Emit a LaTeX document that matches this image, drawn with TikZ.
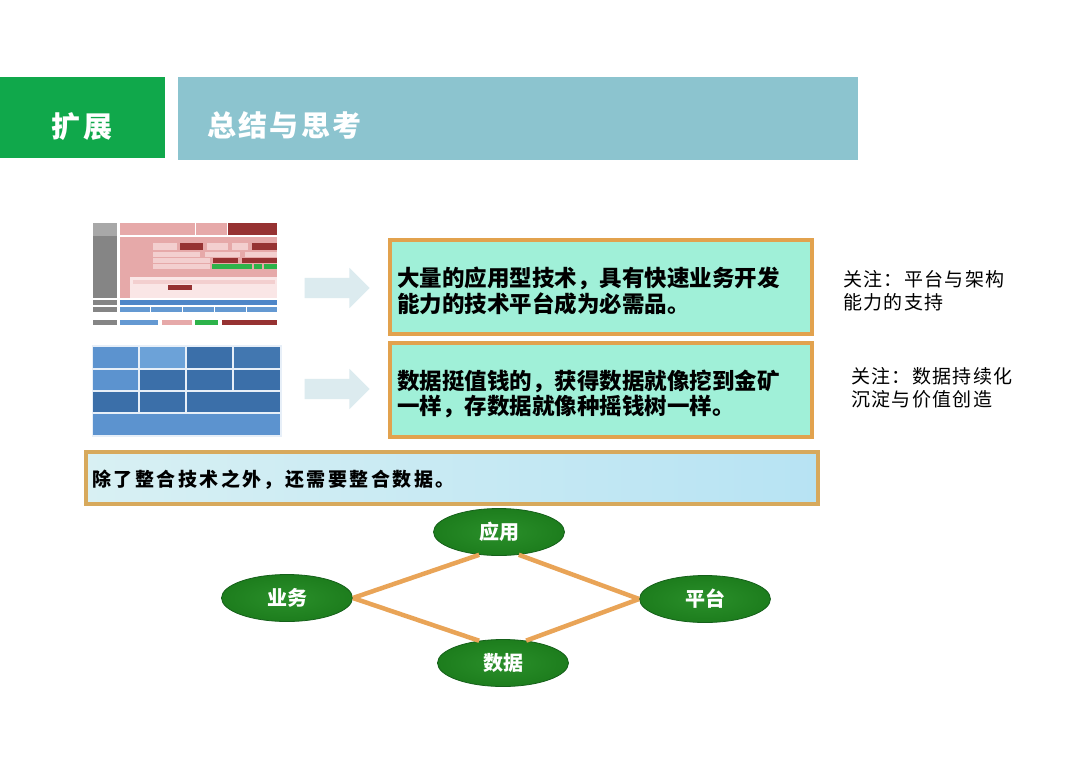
\documentclass[tikz,border=0pt]{standalone}
\usepackage{fontspec}
\setmainfont{Noto Sans CJK SC}
\newfontfamily\cjk{Noto Sans CJK SC}
\newfontfamily\cjkhead[LetterSpace=8]{Noto Sans CJK SC}
\newfontfamily\cjkwide[LetterSpace=13]{Noto Sans CJK SC}
\newfontfamily\cjknote[LetterSpace=7]{Noto Sans CJK SC}
\usetikzlibrary{shapes.geometric,shapes.arrows}
\definecolor{hgreen}{HTML}{10A84B}
\definecolor{hblue}{HTML}{8CC4CF}
\definecolor{mint}{HTML}{A0F0D8}
\definecolor{bord}{HTML}{E2A24E}
\definecolor{bord3}{HTML}{D7A95C}
\definecolor{lblueL}{HTML}{D8F0F3}
\definecolor{lblueR}{HTML}{B7E3F3}
\definecolor{egreenI}{HTML}{2A8F2A}
\definecolor{egreen}{HTML}{1D7D1D}
\definecolor{eborder}{HTML}{15601A}
\definecolor{dline}{HTML}{E9A457}
\definecolor{arrowc}{HTML}{DCEBEF}
\definecolor{tgray}{HTML}{858585}
\definecolor{tgrayL}{HTML}{A8A8A8}
\definecolor{tpink}{HTML}{E6A9A9}
\definecolor{tpinkL}{HTML}{F3CFCF}
\definecolor{tpinkV}{HTML}{FAE6E6}
\definecolor{tred}{HTML}{963232}
\definecolor{tgreen}{HTML}{2DB34A}
\definecolor{tblue}{HTML}{4E86C8}
\definecolor{tblueL}{HTML}{6499D2}
\definecolor{dblueA}{HTML}{5C93CF}
\definecolor{dblueB}{HTML}{6CA2D8}
\definecolor{dblueC}{HTML}{3B6FA9}
\definecolor{dblueD}{HTML}{4277B0}
\tikzset{
  mainbox/.style={draw=bord, line width=4pt, fill=mint, minimum width=422pt, minimum height=94pt, inner sep=0pt},
  boxtext/.style={anchor=west, align=left, inner sep=0pt, font=\cjk\bfseries\fontsize{22.5}{25.5}\selectfont, text=black},
  notetext/.style={anchor=west, align=left, inner sep=0pt, font=\cjknote\fontsize{19}{23}\selectfont, text=black},
  oval/.style={ellipse, inner color=egreenI, outer color=egreen, draw=eborder, line width=0.8pt, minimum width=131pt, minimum height=47pt, inner sep=0pt, text=white, font=\cjk\bfseries\fontsize{20}{22}\selectfont},
  link/.style={draw=dline, line width=4.5pt},
  bigarrow/.style={single arrow, fill=arrowc, draw=none, minimum height=65pt, inner xsep=0pt, inner ysep=10pt, single arrow head extend=10pt, single arrow head indent=0pt}
}
\begin{document}
\begin{tikzpicture}[x=1pt,y=-1pt]
\useasboundingbox (0,0) rectangle (1080,764);
\fill[white] (0,0) rectangle (1080,764);
% header
\node[fill=hgreen, minimum width=165pt, minimum height=81pt, inner sep=0pt] (hg) at (82.5,117.5) {};
\node[text=white, font=\cjkhead\bfseries\fontsize{29}{31}\selectfont, inner sep=0pt] (hgt) at (82,127) {扩展};
\node[fill=hblue, minimum width=680pt, minimum height=83pt, inner sep=0pt] (hb) at (518,118.5) {};
\node[text=white, font=\cjkhead\bfseries\fontsize{29}{31}\selectfont, inner sep=0pt, anchor=west] (hbt) at (207,125) {总结与思考};
% thumbnail 1
\fill[tgray] (93,223) rectangle (117,298);
\fill[tgrayL] (93,223) rectangle (117,236);
\fill[tgray] (93,300) rectangle (117,305);
\fill[tgray] (93,307) rectangle (117,312);
\fill[tpink] (120,223) rectangle (195,235);
\fill[tpink] (196,223) rectangle (227,235);
\fill[tred] (228,223) rectangle (277,235);
\fill[tpink] (120,237) rectangle (277,298);
\fill[tpinkL] (153,243) rectangle (177,250);
\fill[tred] (180,243) rectangle (203,250);
\fill[tpinkL] (207,243) rectangle (228,250);
\fill[tpinkL] (232,243) rectangle (248,250);
\fill[tred] (252,243) rectangle (277,250);
\fill[tpinkL] (153,252) rectangle (200,257);
\fill[tpinkL] (205,252) rectangle (240,257);
\fill[tpinkL] (245,252) rectangle (277,257);
\fill[tpinkL] (153,258) rectangle (210,263);
\fill[tred] (213,258) rectangle (238,263);
\fill[tred] (242,258) rectangle (277,263);
\fill[tpinkL] (153,264) rectangle (210,269);
\fill[tgreen] (212,264) rectangle (252,269);
\fill[tgreen] (254,264) rectangle (262,269);
\fill[tgreen] (264,264) rectangle (277,269);
\fill[tpinkV] (130,277) rectangle (277,298);
\fill[tpinkL] (133,280) rectangle (275,284);
\fill[tred] (168,285) rectangle (192,290);
\fill[tblue] (120,300) rectangle (277,305);
\fill[tblueL] (120,307) rectangle (277,312);
\foreach \xx in {150,182,214,246} \draw[white, line width=0.8pt] (\xx,307) -- (\xx,312);
\fill[tgray] (93,320) rectangle (117,325);
\fill[tblueL] (120,320) rectangle (158,325);
\fill[tpink] (162,320) rectangle (192,325);
\fill[tgreen] (195,320) rectangle (218,325);
\fill[tred] (222,320) rectangle (277,325);
% thumbnail 2
\fill[white!85!dblueA] (92,345) rectangle (282,437);
\fill[dblueA] (93,347) rectangle (138,368);
\fill[dblueB] (140,347) rectangle (185,368);
\fill[dblueC] (187,347) rectangle (232,368);
\fill[dblueD] (234,347) rectangle (280,368);
\fill[dblueA] (93,370) rectangle (138,390);
\fill[dblueC] (140,370) rectangle (185,390);
\fill[dblueC] (187,370) rectangle (232,390);
\fill[dblueC] (234,370) rectangle (280,390);
\fill[dblueC] (93,392) rectangle (138,412);
\fill[dblueC] (140,392) rectangle (185,412);
\fill[dblueC] (187,392) rectangle (280,412);
\fill[dblueA] (93,414) rectangle (280,435);
% arrows
\node[bigarrow] (ar1) at (332,288) {};
\node[bigarrow] (ar2) at (332,389) {};
% text boxes
\node[mainbox] (b1) at (601,287) {};
\node[boxtext] (b1t) at (397,291) {大量的应用型技术，具有快速业务开发\\能力的技术平台成为必需品。};
\node[mainbox] (b2) at (601,389.5) {};
\node[boxtext] (b2t) at (397,394) {数据挺值钱的，获得数据就像挖到金矿\\一样，存数据就像种摇钱树一样。};
\node[draw=bord3, line width=3.5pt, left color=lblueL, right color=lblueR, minimum width=732pt, minimum height=52pt, inner sep=0pt] (b3) at (452,478) {};
\node[anchor=west, inner sep=0pt, font=\cjkwide\bfseries\fontsize{19}{21}\selectfont] (b3t) at (92,480) {除了整合技术之外，还需要整合数据。};
% notes
\node[notetext] (n1) at (843,291) {关注：平台与架构\\能力的支持};
\node[notetext] (n2) at (851,388) {关注：数据持续化\\沉淀与价值创造};
% diamond
\node[oval] (yy) at (499,532) {应用};
\node[oval] (yw) at (287,598) {业务};
\node[oval] (pt) at (705,599) {平台};
\node[oval] (sj) at (503,663) {数据};
\draw[link] (yw.east) -- (yy.229);
\draw[link] (yy.311) -- (pt.west);
\draw[link] (yw.east) -- (sj.137);
\draw[link] (sj.44) -- (pt.west);
\end{tikzpicture}
\end{document}
